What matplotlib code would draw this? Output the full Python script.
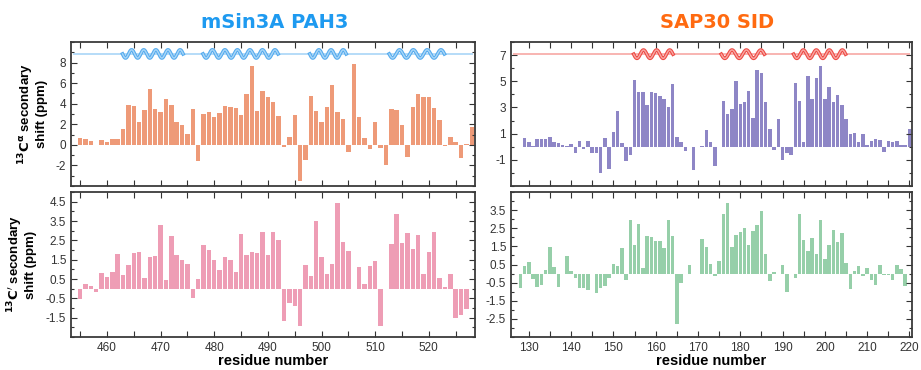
import numpy as np
import matplotlib
matplotlib.use("Agg")
from matplotlib import pyplot as plt
from matplotlib.ticker import MultipleLocator, FixedLocator

plt.rcParams['font.family'] = ['Liberation Sans', 'DejaVu Sans']

# mSin3A PAH3 - residues 455..528 (CA), 455..527 (C')
pah3_ca_start = 455
pah3_ca = [0.71, 0.58, 0.39, 0.03, 0.52, 0.32, 0.58, 0.61, 1.55, 3.87,
           3.77, 2.26, 3.35, 5.42, 3.52, 3.16, 4.48, 3.84, 2.19, 1.94,
           1.10, 3.48, -1.58, 3.03, 3.16, 2.68, 3.10, 3.80, 3.68, 3.55,
           2.87, 4.90, 7.68, 3.32, 5.19, 4.68, 4.16, 2.84, -0.19, 0.74,
           2.94, -3.55, -1.45, 4.71, 3.29, 2.26, 3.68, 5.81, 3.23, 2.52,
           -0.71, 7.84, 2.68, 0.65, -0.39, 2.23, -0.32, -1.94, 3.48, 3.42,
           1.97, -1.16, 3.68, 4.90, 4.61, 4.68, 3.58, 2.45, -0.13, 0.77,
           0.23, -1.29, 0.13, 1.71]
pah3_co_start = 455
pah3_co = [-0.55, 0.22, 0.12, -0.16, 0.79, 0.60, 0.84, 1.78, 0.69, 1.22,
           1.84, 1.90, 0.57, 1.66, 1.69, 3.31, 0.45, 2.71, 1.76, 1.47,
           1.26, -0.48, 0.50, 2.28, 1.98, 1.48, 0.98, 1.62, 1.48, 0.86,
           2.81, 1.76, 1.90, 1.84, 2.91, 1.74, 2.95, 2.50, -1.67, -0.76,
           -0.91, -1.93, 1.21, 0.67, 3.52, 1.66, 0.74, 1.29, 4.45, 2.41,
           1.97, None, 1.14, 0.24, 1.17, 1.43, -1.93, None, 2.31, 3.84,
           2.38, 2.90, 2.07, 2.79, 0.74, 1.90, 2.91, 0.57, 0.10, 0.74,
           -1.52, -1.38, -1.05]
pah3_helices = [(462.9, 474.2), (477.9, 491.9), (497.8, 504.6), (512.6, 522.9)]

# SAP30 SID - residues 129..220 (CA), 128..219 (C')
sid_ca_start = 129
sid_ca = [0.64, 0.38, 0.05, 0.61, 0.56, 0.56, 0.71, 0.36, 0.25, 0.10,
          0.03, 0.20, -0.51, 0.43, -0.20, 0.43, -0.51, -0.51, -2.00, 0.64,
          -1.70, 1.09, 2.75, 0.28, -1.10, -0.66, 5.09, 4.17, 4.17, 3.16,
          4.20, 4.12, 3.89, 3.61, 3.05, 4.81, 0.76, 0.33, -0.33, -0.05,
          -1.75, None, 0.05, 1.25, 0.35, -1.45, None, 3.46, 2.49, 2.87,
          5.01, 3.23, 3.44, 4.27, 2.21, 5.88, 5.65, 3.44, 1.32, -0.28,
          2.09, -1.02, -0.46, -0.66, 4.86, 3.51, 0.33, 5.39, 3.66, 5.22,
          6.16, 3.61, 4.58, 3.44, 3.94, 3.21, 2.14, 0.99, 1.02, 0.38,
          0.99, 0.10, 0.46, 0.59, 0.51, -0.41, 0.41, 0.38, 0.46, 0.13,
          0.10, 1.32]
sid_co_start = 128
sid_co = [-0.78, 0.43, 0.65, -0.31, -0.74, -0.65, 0.19, 1.48, 0.37, -0.74,
          None, 0.98, 0.13, -0.24, -0.78, -0.78, -0.91, None, -1.06, -0.81,
          -0.69, -0.26, 0.52, 0.43, 1.39, -0.35, 2.93, 1.57, 2.76, 0.28,
          2.06, 2.02, 1.78, 1.78, 1.39, 2.98, 2.09, -2.76, -0.50, None,
          0.46, None, None, 1.91, 1.44, 0.52, -0.15, 0.72, 3.26, 3.91,
          1.48, 2.15, 2.30, 2.54, 1.57, 2.35, 2.67, 3.44, 1.06, -0.39,
          0.06, None, 0.48, -1.00, None, -0.26, 3.28, 1.83, 1.24, 1.96,
          1.06, 2.96, 0.78, 1.56, 2.41, 1.74, 2.24, 0.56, -0.87, 0.15,
          0.43, -0.11, 0.33, -0.35, -0.65, 0.50, -0.09, -0.09, -0.33, 0.50,
          0.24, -0.70]
sid_helices = [(154.8, 164.1), (175.5, 185.7), (192.6, 204.9)]

W, H = 921, 370
fig = plt.figure(figsize=(W / 100, H / 100), dpi=100)


def box(x0, y0, x1, y1):
    # pixel box (top-left origin) -> figure fraction
    return [x0 / W, 1 - y1 / H, (x1 - x0) / W, (y1 - y0) / H]


def style(ax, xlim, ylim, major, minor, xlabels):
    ax.set_xlim(*xlim)
    ax.set_ylim(*ylim)
    ax.xaxis.set_major_locator(MultipleLocator(10))
    ax.xaxis.set_minor_locator(MultipleLocator(5))
    ax.yaxis.set_major_locator(FixedLocator(major))
    ax.yaxis.set_minor_locator(MultipleLocator(minor))
    ax.tick_params(which='both', direction='in', top=True, right=True,
                   labelsize=8.5, colors='#333333', width=0.8)
    ax.tick_params(which='major', length=4)
    ax.tick_params(which='minor', length=2.5)
    ax.tick_params(axis='x', which='minor', length=4)
    ax.set_yticklabels([('%g' % v) for v in major])
    if not xlabels:
        ax.tick_params(axis='x', labelbottom=False)
    for s in ax.spines.values():
        s.set_linewidth(1.3)
        s.set_color('#3a3a3a')


def bars(ax, start, vals, color):
    v = np.array(vals, dtype=float)
    r = np.arange(start, start + len(v))
    ax.bar(r, v, width=0.82, color=color, edgecolor='none')


def helix(ax, xlim, y0, amp, spans, dark, light, px_per_res):
    ax.plot([xlim[0] + 0.4, xlim[1] - 0.4], [y0, y0], color=light, lw=1.2,
            solid_capstyle='butt', zorder=3)
    for a, b in spans:
        n = max(1, round((b - a) * px_per_res / 12.5))
        x = np.linspace(a, b, 200)
        y = y0 - amp * np.sin(2 * np.pi * n * (x - a) / (b - a))
        ax.plot(x, y, color=dark, lw=2.6, zorder=4)
        ax.plot(x, y, color=light, lw=1.0, zorder=5)


def xlab(ax):
    ax.set_xlabel("residue number", fontsize=10.5, fontweight='bold')
    ax.xaxis.set_label_coords(0.5, -0.115)


def ylab(ax, text, xpos):
    ax.set_ylabel(text, fontsize=9.5, fontweight='bold', linespacing=1.0)
    ax.yaxis.set_label_coords(xpos, 0.5)


# left column
lx = (453.3, 528.6)
ax1 = fig.add_axes(box(71, 42, 475, 186))
bars(ax1, pah3_ca_start, pah3_ca, '#EE9A78')
style(ax1, lx, (-4, 10), [-2, 0, 2, 4, 6, 8], 1, False)
helix(ax1, lx, 8.84, 0.4, pah3_helices, '#55ABEE', '#A9D6F7', 5.35)
ylab(ax1, "$\\mathbf{^{13}C^{\\alpha}}$ secondary\nshift (ppm)", -0.058)

ax2 = fig.add_axes(box(71, 192, 475, 337))
bars(ax2, pah3_co_start, pah3_co, '#EE9DB5')
style(ax2, lx, (-2.5, 5.0), [-1.5, -0.5, 0.5, 1.5, 2.5, 3.5, 4.5], 0.5, True)
ylab(ax2, "$\\mathbf{^{13}C'}$ secondary\nshift (ppm)", -0.085)
xlab(ax2)

# right column
rx = (125.8, 220.6)
ax3 = fig.add_axes(box(511, 42, 912, 186))
bars(ax3, sid_ca_start, sid_ca, '#8E86C6')
style(ax3, rx, (-3, 8), [-1, 1, 3, 5, 7], 1, False)
helix(ax3, rx, 7.07, 0.32, sid_helices, '#EE4A44', '#F7A8A4', 4.23)

ax4 = fig.add_axes(box(511, 192, 912, 337))
bars(ax4, sid_co_start, sid_co, '#96CFA9')
style(ax4, rx, (-3.5, 4.5), [-2.5, -1.5, -0.5, 0.5, 1.5, 2.5, 3.5], 0.5, True)
xlab(ax4)

fig.text(275 / W, 1 - 23 / H, "mSin3A PAH3", color='#1E9AF0', fontsize=14,
         fontweight='bold', ha='center', va='center',
         family=['Liberation Sans Narrow', 'DejaVu Sans'])
fig.text(717 / W, 1 - 23 / H, "SAP30 SID", color='#FF6A10', fontsize=14,
         fontweight='bold', ha='center', va='center',
         family=['Liberation Sans Narrow', 'DejaVu Sans'])

fig.savefig("out.png", dpi=100)
